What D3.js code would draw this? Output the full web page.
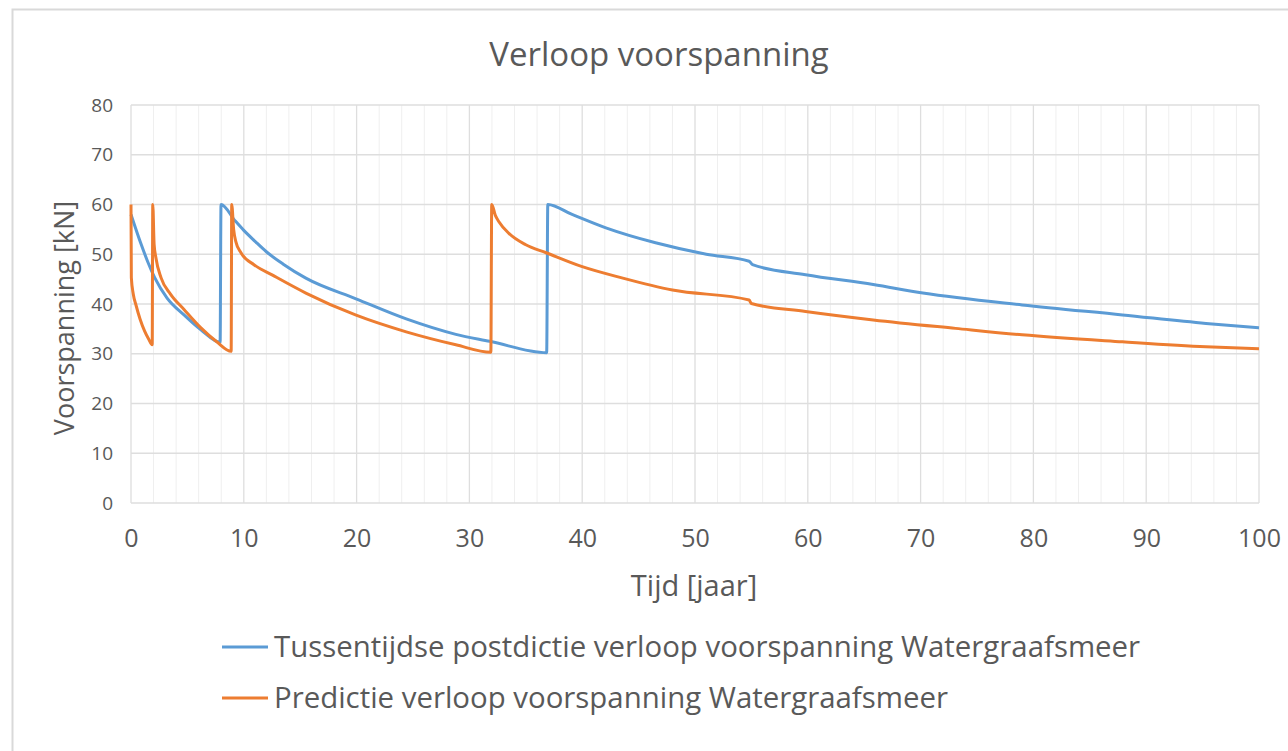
<!DOCTYPE html>
<html>
<head>
<meta charset="utf-8">
<script src="https://cdn.jsdelivr.net/npm/d3@7"></script>
<style>
  html, body { margin: 0; padding: 0; background: #fff; }
  svg { display: block; font-family: "Open Sans", "Noto Sans", sans-serif; }
</style>
</head>
<body>
<svg id="chart" width="1288" height="751"></svg>
<script>
// ---- Data ----
const title = "Verloop voorspanning";
const xTitle = "Tijd [jaar]";
const yTitle = "Voorspanning [kN]";
const seriesNames = [
  "Tussentijdse postdictie verloop voorspanning Watergraafsmeer",
  "Predictie verloop voorspanning Watergraafsmeer"
];
const seriesColors = ["#5B9BD5", "#ED7D31"];

const xTicks = [0, 10, 20, 30, 40, 50, 60, 70, 80, 90, 100];
const xMinorTicks = d3.range(0, 101, 2);
const yTicks = [0, 10, 20, 30, 40, 50, 60, 70, 80];

const blueX = [0, 0.9, 1.5, 2.1, 3.2, 4.7, 6.2, 7.9, 7.98, 9.2, 10, 11, 12, 13.5, 15.5, 20, 24.4, 28.8, 31.8, 36.85, 36.95, 39.1, 42.1, 46.5, 51, 54.8, 55.1, 59.8, 65.8, 70.2, 79, 87.9, 95.3, 100];
const blueY = [58, 52, 48.4, 45.3, 41.2, 37.8, 34.8, 32.3, 60, 56.8, 54.8, 52.6, 50.5, 48, 45.2, 41, 37, 33.9, 32.5, 30.2, 60, 58, 55.3, 52.3, 50, 48.6, 47.9, 45.9, 43.9, 42.2, 39.8, 37.8, 36.1, 35.2];

const orangeX = [0, 0.03, 0.2, 0.44, 0.8, 1.2, 1.55, 1.88, 1.93, 2.05, 2.2, 2.66, 3.5, 4.7, 6.2, 7.6, 8.88, 8.93, 9.1, 9.3, 9.75, 10.9, 12.55, 15.5, 19.9, 24.4, 28.8, 31.9, 31.98, 32.3, 32.6, 33.5, 35, 36.8, 40, 43.6, 48, 54.8, 55.0, 59.8, 65.8, 73.1, 79, 87.9, 95.3, 100];
const orangeY = [60, 45.3, 42, 39.8, 37, 34.6, 33, 31.8, 60, 52, 49.4, 45.3, 42, 38.9, 35.2, 32.4, 30.5, 60, 55, 52.5, 50.3, 47.9, 45.8, 42.2, 37.8, 34.4, 31.8, 30.3, 60, 57.8, 56.6, 54.2, 51.9, 50.3, 47.5, 45.2, 42.8, 40.8, 40.1, 38.5, 36.8, 35.1, 33.8, 32.4, 31.4, 31.0];

const series = [
  blueX.map((x, i) => ({ x, y: blueY[i] })),
  orangeX.map((x, i) => ({ x, y: orangeY[i] }))
];

// ---- Layout ----
const svg = d3.select("#chart");
const plot = { left: 131, right: 1259, top: 105, bottom: 503 };
const textColor = "#595959";

const x = d3.scaleLinear().domain([0, 100]).range([plot.left, plot.right]);
const y = d3.scaleLinear().domain([0, 80]).range([plot.bottom, plot.top]);

// Outer chart border
svg.append("rect")
  .attr("x", 12.5).attr("y", 9.5)
  .attr("width", 1300).attr("height", 800)
  .attr("fill", "#fff").attr("stroke", "#d9d9d9").attr("stroke-width", 2);

// Minor vertical gridlines
svg.append("g").selectAll("line").data(xMinorTicks.filter(d => d % 10 !== 0)).join("line")
  .attr("x1", d => x(d)).attr("x2", d => x(d))
  .attr("y1", plot.top).attr("y2", plot.bottom)
  .attr("stroke", "#efefef").attr("stroke-width", 1);

// Major vertical gridlines
svg.append("g").selectAll("line").data(xTicks).join("line")
  .attr("x1", d => x(d)).attr("x2", d => x(d))
  .attr("y1", plot.top).attr("y2", plot.bottom)
  .attr("stroke", "#dedede").attr("stroke-width", 1.3);

// Horizontal gridlines
svg.append("g").selectAll("line").data(yTicks).join("line")
  .attr("x1", plot.left).attr("x2", plot.right)
  .attr("y1", d => y(d)).attr("y2", d => y(d))
  .attr("stroke", "#dedede").attr("stroke-width", 1.3);

// Axes (labels only)
const xAxis = svg.append("g")
  .attr("transform", `translate(0,${plot.bottom})`)
  .call(d3.axisBottom(x).tickValues(xTicks).tickSize(0).tickPadding(26));
xAxis.select(".domain").remove();
xAxis.selectAll("text").attr("fill", textColor)
  .style("font-size", "25px").style("font-family", "'Open Sans', sans-serif");

const yAxis = svg.append("g")
  .attr("transform", `translate(${plot.left},0)`)
  .call(d3.axisLeft(y).tickValues(yTicks).tickSize(0).tickPadding(18));
yAxis.select(".domain").remove();
yAxis.selectAll("text").attr("fill", textColor)
  .style("font-size", "19px").style("font-family", "'Open Sans', sans-serif");

// Lines
const line = d3.line().x(d => x(d.x)).y(d => y(d.y)).curve(d3.curveMonotoneX);
svg.append("g").selectAll("path").data(series).join("path")
  .attr("d", line)
  .attr("fill", "none")
  .attr("stroke", (d, i) => seriesColors[i])
  .attr("stroke-width", 3)
  .attr("stroke-linejoin", "round");

// Title
svg.append("text")
  .attr("x", 659).attr("y", 66)
  .attr("text-anchor", "middle")
  .attr("fill", textColor)
  .style("font-size", "33px")
  .text(title);

// Axis titles
svg.append("text")
  .attr("x", 694).attr("y", 596)
  .attr("text-anchor", "middle")
  .attr("fill", textColor)
  .style("font-size", "29px")
  .text(xTitle);

svg.append("text")
  .attr("transform", `translate(74,318) rotate(-90)`)
  .attr("text-anchor", "middle")
  .attr("fill", textColor)
  .style("font-size", "27px")
  .text(yTitle);

// Legend
const legend = svg.append("g").selectAll("g").data(seriesNames).join("g")
  .attr("transform", (d, i) => `translate(222,${647 + i * 51})`);
legend.append("line")
  .attr("x1", 0).attr("x2", 46).attr("y1", 0).attr("y2", 0)
  .attr("stroke", (d, i) => seriesColors[i]).attr("stroke-width", 3);
legend.append("text")
  .attr("x", 52).attr("y", 10)
  .attr("fill", textColor)
  .style("font-size", "29.4px")
  .text(d => d);
</script>
</body>
</html>
